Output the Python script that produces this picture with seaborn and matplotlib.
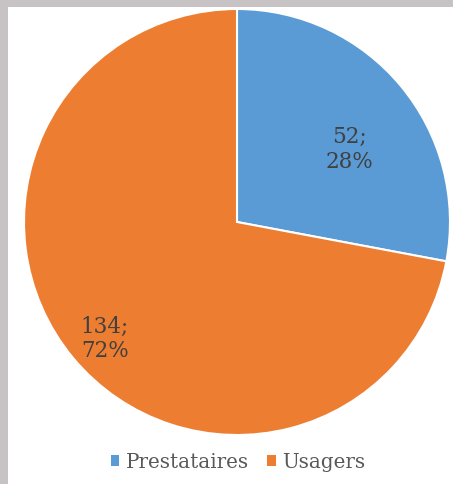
import matplotlib
matplotlib.use("Agg")
import matplotlib.pyplot as plt
import seaborn as sns
from matplotlib.patches import Rectangle, Patch

categories = ["Prestataires", "Usagers"]
values = [52, 134]
percents = ["28%", "72%"]
colors = ["#5B9BD5", "#ED7D31"]

sns.set_theme(style="white")
plt.rcParams['font.family'] = ['DejaVu Serif']

W, H = 453, 484
fig = plt.figure(figsize=(W / 100, H / 100), dpi=100)
fig.patch.set_facecolor("#c7c2c3")
fig.patches.append(Rectangle((8 / W, 0), 1 - 8 / W, 1 - 7 / H, transform=fig.transFigure,
                             facecolor="white", edgecolor="none", zorder=-1))

cx, cy, r = 237, 222, 213
ax = fig.add_axes([(cx - r) / W, (H - cy - r) / H, 2 * r / W, 2 * r / H])
ax.set_zorder(2)
ax.set_facecolor("none")
wedges, _ = ax.pie(values, colors=colors, startangle=90, counterclock=False,
                   wedgeprops=dict(edgecolor="white", linewidth=1.5))
ax.set_xlim(-1, 1)
ax.set_ylim(-1, 1)
ax.set_aspect("equal")
ax.axis("off")

label_pos = [(0.53, 0.34), (-0.62, -0.55)]
for (x, y), v, p in zip(label_pos, values, percents):
    ax.text(x, y, f"{v};\n{p}", ha="center", va="center", fontsize=15.5,
            color="#404040", linespacing=1.15)

handles = [Patch(facecolor=c, edgecolor="none") for c in colors]
leg = fig.legend(handles, categories, loc="center", bbox_to_anchor=(238 / W, 1 - 462 / H),
                 ncol=2, frameon=False, fontsize=14.3, handlelength=0.42, handleheight=0.42,
                 handletextpad=0.3, columnspacing=0.95, labelcolor="#595959")
leg.set_zorder(3)

fig.savefig("out.png", dpi=100, facecolor=fig.get_facecolor())
